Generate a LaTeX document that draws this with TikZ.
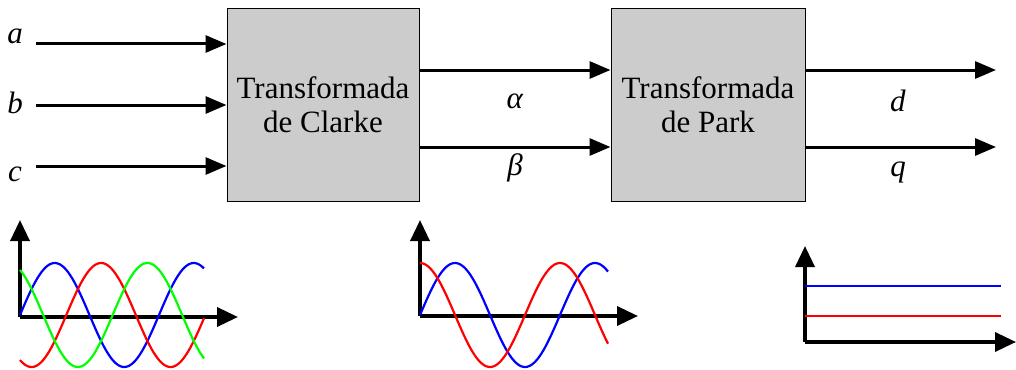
\documentclass[tikz,border=0pt]{standalone}
\usepackage{fontspec}
\setmainfont{Liberation Serif}
\usetikzlibrary{arrows.meta}

\tikzset{
    block/.style={draw, line width=1pt, fill=gray!40, minimum height=192pt,
        align=center, inner sep=0pt},
    signal/.style={line width=3pt, -{Triangle[length=21pt,width=17pt]}},
    axis/.style={line width=3.5pt, -{Triangle[length=21pt,width=19pt]}},
    wave/.style={line width=2.2pt, samples=120}
}

\begin{document}
\begin{tikzpicture}[
        x=1pt,
        y=-1pt,
        font=\fontsize{31}{34}\selectfont
    ]
    \useasboundingbox (0,0) rectangle (1016,369);

    % Blocks
    \node[block, minimum width=192pt] (clarke) at (323,105) {Transformada\\de Clarke};
    \node[block, minimum width=194pt] (park) at (708,105) {Transformada\\de Park};

    % Inputs a, b, c
    \coordinate (ina) at (36,44);
    \coordinate (inb) at (36,105);
    \coordinate (inc) at (36,166);
    \node (la) at (15,36) {\textit{a}};
    \node (lb) at (15,103) {\textit{b}};
    \node (lc) at (15,174) {\textit{c}};
    \draw[signal] (ina) -- (clarke.west |- ina);
    \draw[signal] (inb) -- (clarke.west |- inb);
    \draw[signal] (inc) -- (clarke.west |- inc);

    % Alpha, beta
    \coordinate (alf) at (419,70);
    \coordinate (bet) at (419,147);
    \draw[signal] (alf) -- (park.west |- alf);
    \draw[signal] (bet) -- (park.west |- bet);
    \node (lalf) at (515,101) {\textit{α}};
    \node (lbet) at (515,168) {\textit{β}};

    % Outputs d, q
    \coordinate (outd) at (996,70);
    \coordinate (outq) at (996,147);
    \draw[signal] (park.east |- outd) -- (outd);
    \draw[signal] (park.east |- outq) -- (outq);
    \node (ld) at (898,101) {\textit{d}};
    \node (lq) at (898,172) {\textit{q}};

    % abc waveforms
    \draw[axis] (20,317) -- (20,220);
    \draw[axis] (20,317) -- (238,317);
    \draw[wave, blue] plot[domain=0:184] ({\x+20},{315-52*sin(\x/139*360)});
    \draw[wave, red] plot[domain=0:184] ({\x+20},{315-52*sin(\x/139*360-120)});
    \draw[wave, green] plot[domain=0:184] ({\x+20},{315-52*sin(\x/139*360+120)});

    % alpha-beta waveforms
    \draw[axis] (420,316) -- (420,220);
    \draw[axis] (420,316) -- (638,316);
    \draw[wave, blue] plot[domain=0:188] ({\x+420},{315-52*sin(\x/140*360)});
    \draw[wave, red] plot[domain=0:188] ({\x+420},{315-52*cos(\x/140*360)});

    % dq values
    \draw[axis] (805,342) -- (805,246);
    \draw[axis] (805,342) -- (1016,342);
    \draw[line width=2pt, blue] (805,286) -- (1001,286);
    \draw[line width=2pt, red] (805,316) -- (1001,316);

\end{tikzpicture}
\end{document}
